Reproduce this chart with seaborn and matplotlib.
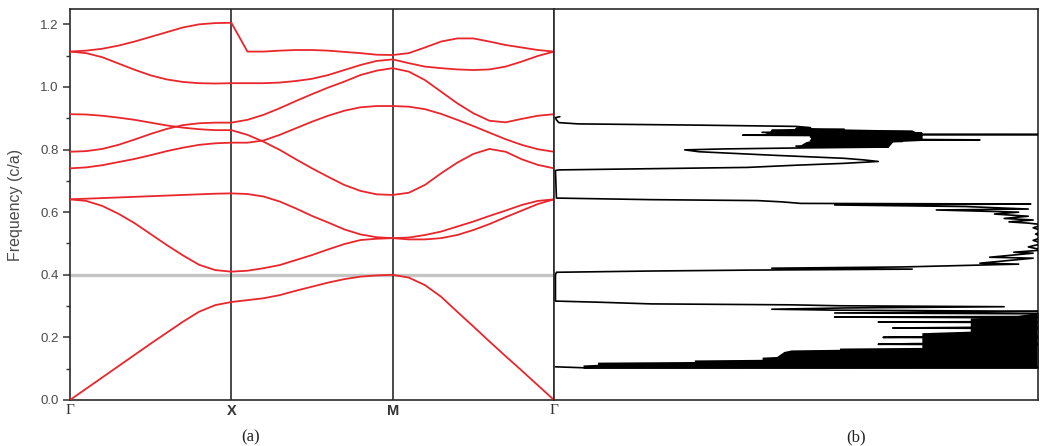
import matplotlib
matplotlib.use("Agg")
import matplotlib.pyplot as plt
from matplotlib.ticker import MultipleLocator
import numpy as np
import pandas as pd
import seaborn as sns

# ---------------- data ----------------
k_path = [0.0, 0.1, 0.2, 0.3, 0.4, 0.5, 0.6, 0.7, 0.8, 0.9, 1.0,
          1.1, 1.2, 1.3, 1.4, 1.5, 1.6, 1.7, 1.8, 1.9, 2.0,
          2.1, 2.2, 2.3, 2.4, 2.5, 2.6, 2.7, 2.8, 2.9, 3.0]

band1 = [0.000, 0.036, 0.072, 0.108, 0.144, 0.180, 0.215, 0.250, 0.282, 0.303, 0.313,
         0.319, 0.325, 0.335, 0.349, 0.362, 0.375, 0.386, 0.394, 0.398, 0.400,
         0.391, 0.367, 0.330, 0.282, 0.235, 0.187, 0.140, 0.094, 0.047, 0.000]
band2 = [0.641, 0.636, 0.620, 0.595, 0.565, 0.530, 0.495, 0.462, 0.432, 0.415, 0.410,
         0.413, 0.421, 0.431, 0.447, 0.463, 0.481, 0.498, 0.511, 0.515, 0.517,
         0.513, 0.513, 0.517, 0.527, 0.543, 0.562, 0.584, 0.605, 0.626, 0.641]
band3 = [0.641, 0.643, 0.645, 0.647, 0.649, 0.651, 0.653, 0.655, 0.657, 0.659, 0.660,
         0.658, 0.650, 0.634, 0.612, 0.588, 0.567, 0.545, 0.529, 0.520, 0.517,
         0.519, 0.527, 0.538, 0.554, 0.570, 0.588, 0.605, 0.623, 0.636, 0.641]
band4 = [0.740, 0.743, 0.750, 0.760, 0.770, 0.782, 0.795, 0.806, 0.815, 0.820, 0.822,
         0.822, 0.829, 0.847, 0.868, 0.889, 0.908, 0.924, 0.935, 0.939, 0.939,
         0.937, 0.929, 0.914, 0.895, 0.875, 0.854, 0.833, 0.815, 0.801, 0.793]
band5 = [0.793, 0.795, 0.802, 0.815, 0.832, 0.850, 0.866, 0.878, 0.884, 0.886, 0.886,
         0.895, 0.911, 0.932, 0.955, 0.977, 0.998, 1.017, 1.038, 1.052, 1.060,
         1.049, 1.022, 0.985, 0.948, 0.916, 0.892, 0.887, 0.898, 0.908, 0.913]
band6 = [0.913, 0.912, 0.908, 0.902, 0.895, 0.886, 0.877, 0.870, 0.865, 0.862, 0.862,
         0.847, 0.825, 0.799, 0.769, 0.740, 0.713, 0.687, 0.668, 0.657, 0.655,
         0.662, 0.687, 0.724, 0.758, 0.786, 0.802, 0.793, 0.769, 0.751, 0.740]
band7 = [1.113, 1.108, 1.095, 1.075, 1.055, 1.037, 1.024, 1.016, 1.012, 1.011, 1.012,
         1.012, 1.012, 1.014, 1.019, 1.026, 1.038, 1.054, 1.070, 1.083, 1.088,
         1.076, 1.065, 1.060, 1.056, 1.054, 1.056, 1.065, 1.081, 1.099, 1.113]
band8 = [1.113, 1.116, 1.122, 1.132, 1.145, 1.160, 1.175, 1.190, 1.200, 1.204, 1.205,
         1.113, 1.113, 1.116, 1.118, 1.118, 1.116, 1.112, 1.108, 1.103, 1.102,
         1.108, 1.126, 1.145, 1.155, 1.155, 1.145, 1.134, 1.126, 1.118, 1.113]

k_ticks = [0, 1, 2, 3]
k_labels = ["Γ", "X", "M", "Γ"]
gap_line = 0.40

# density of states trace (frequency, DOS in % of panel width)
dos_freq = [0.106, 0.103, 0.104,
            0.176, 0.178, 0.180, 0.182, 0.198, 0.200, 0.202, 0.204,
            0.228, 0.230, 0.232, 0.234, 0.247, 0.249, 0.251, 0.262, 0.265, 0.267,
            0.275, 0.278, 0.283, 0.287, 0.290, 0.294, 0.298, 0.301, 0.304, 0.307,
            0.312, 0.316, 0.400,
            0.408, 0.412, 0.415, 0.418, 0.421, 0.425, 0.434, 0.437, 0.453, 0.456,
            0.469, 0.472, 0.479, 0.489, 0.500, 0.510, 0.520, 0.530, 0.540, 0.550,
            0.560, 0.565, 0.569, 0.575, 0.580, 0.587, 0.594, 0.600, 0.607, 0.610,
            0.618, 0.623, 0.626, 0.628, 0.633, 0.637, 0.640, 0.645, 0.733,
            0.735, 0.743, 0.750, 0.756, 0.762, 0.767, 0.772, 0.782, 0.793, 0.799,
            0.802, 0.805, 0.808, 0.811, 0.814, 0.817, 0.820, 0.823, 0.826, 0.829,
            0.831, 0.834, 0.837, 0.840, 0.843, 0.846, 0.848, 0.850, 0.852, 0.855,
            0.858, 0.861, 0.864, 0.867, 0.870, 0.874, 0.878, 0.882, 0.886, 0.895,
            0.902, 0.905]
dos_val = [0.3, 6, 105,
           105, 67, 74, 105, 105, 68, 78, 105,
           105, 70, 86, 105, 105, 67, 105, 105, 58, 105,
           105, 58, 105, 58, 45, 60, 93, 59, 49, 20,
           10, 0.3, 0.3,
           0.5, 20, 41, 74, 45, 72, 96, 88, 99, 90,
           99, 95, 101, 98, 101, 99, 101, 99.5, 101, 99,
           101, 98, 94, 99, 93, 98, 91, 96, 79, 98,
           85, 58, 98.5, 51, 47, 42, 20, 0.5, 0.3,
           1, 40, 50, 60, 67, 64, 60, 45, 30, 27,
           35, 50, 69, 50, 69, 52, 68, 55, 72, 53,
           88, 55, 76, 53, 76, 39, 102, 45, 76, 43,
           74, 45, 60, 50, 53, 50, 30, 5, 1, 0.5,
           0.3, 1.2]

# solid (densely oscillating) core of the lowest DOS band
core_freq = [0.101, 0.112, 0.114, 0.121, 0.123, 0.128, 0.130, 0.137, 0.139, 0.155,
             0.160, 0.162, 0.166, 0.168, 0.215, 0.220, 0.262, 0.268, 0.280]
core_left = [6, 6, 9, 9, 29, 29, 43, 43, 46, 47.5,
             49, 59, 59, 76, 76, 86, 86, 95, 100]
# dense core of the upper DOS band
core2_freq = [0.807, 0.825, 0.829, 0.845, 0.848, 0.862, 0.868]
core2_left = [50, 52, 53, 53, 43, 45, 50]
core2_right = [69, 70, 76, 76, 76, 74, 53]

# ---------------- style ----------------
sns.set_style("ticks")
plt.rcParams["font.family"] = ["Liberation Sans", "DejaVu Sans"]

RED = "#e8262c"
W, H = 1041, 446
fig = plt.figure(figsize=(W / 100, H / 100), dpi=100)
fig.patch.set_facecolor("white")

ax1 = fig.add_axes([70 / W, 46 / H, 484 / W, 391 / H])
ax2 = fig.add_axes([554 / W, 46 / H, 484 / W, 391 / H])

# bands
bands = [band1, band2, band3, band4, band5, band6, band7, band8]
df = pd.DataFrame({
    "k": np.tile(k_path, len(bands)),
    "freq": np.concatenate(bands),
    "band": np.repeat(np.arange(len(bands)), len(k_path)),
})
ax1.axhline(gap_line, color="#c4c4c4", lw=2.4, zorder=1)
sns.lineplot(data=df, x="k", y="freq", units="band", estimator=None,
             color=RED, lw=1.3, ax=ax1, zorder=3, legend=False)
for xv in (1, 2):
    ax1.axvline(xv, color="#2a2a2a", lw=1.2, zorder=2)

ax1.set_xlim(0, 3)
ax1.set_ylim(0, 1.249)
ax1.yaxis.set_major_locator(MultipleLocator(0.2))
ax1.yaxis.set_minor_locator(MultipleLocator(0.1))
ax1.set_yticks([0.0, 0.2, 0.4, 0.6, 0.8, 1.0, 1.2])
ax1.set_yticklabels(["0.0", "0.2", "0.4", "0.6", "0.8", "1.0", "1.2"])
ax1.tick_params(axis="y", which="major", length=5, width=1.1, color="#333",
                labelsize=9.5, labelcolor="#4a4a4a", pad=3)
ax1.tick_params(axis="y", which="minor", length=3, width=1.0, color="#333")
ax1.set_xticks(k_ticks)
ax1.set_xticklabels(k_labels)
ax1.tick_params(axis="x", length=0, pad=3)
for lab, txt in zip(ax1.get_xticklabels(), k_labels):
    if txt == "Γ":
        lab.set_fontfamily("Liberation Serif")
        lab.set_fontsize(11)
        lab.set_color("#333")
    else:
        lab.set_fontweight("bold")
        lab.set_fontsize(10.5)
        lab.set_color("#333")
ax1.set_xlabel("")
ax1.set_ylabel("Frequency (c/a)", fontsize=11.5, color="#4a4a4a")
ax1.yaxis.set_label_coords(-0.098, 0.5)

# DOS
ax2.fill_betweenx(core_freq, core_left, 110, color="black", lw=0, zorder=2)
ax2.fill_betweenx(core2_freq, core2_left, core2_right, color="black", lw=0, zorder=2)
dos_df = pd.DataFrame({"dos": dos_val, "freq": dos_freq})
sns.lineplot(data=dos_df, x="dos", y="freq", sort=False, estimator=None,
             color="black", lw=1.2, ax=ax2, zorder=3, legend=False)
ax2.set_xlim(0, 100)
ax2.set_ylim(0, 1.249)
ax2.set_xticks([])
ax2.set_yticks([])
ax2.set_xlabel("")
ax2.set_ylabel("")

for ax in (ax1, ax2):
    for s in ax.spines.values():
        s.set_color("#2a2a2a")
        s.set_linewidth(1.2)
        s.set_visible(True)
    ax.set_facecolor("white")

fig.text(251 / W, 1 - 437 / H, "(a)", ha="center", va="center",
         family="Liberation Serif", fontsize=12, color="#222")
fig.text(856 / W, 1 - 437 / H, "(b)", ha="center", va="center",
         family="Liberation Serif", fontsize=12, color="#222")

fig.savefig("out.png", dpi=100, facecolor="white")
